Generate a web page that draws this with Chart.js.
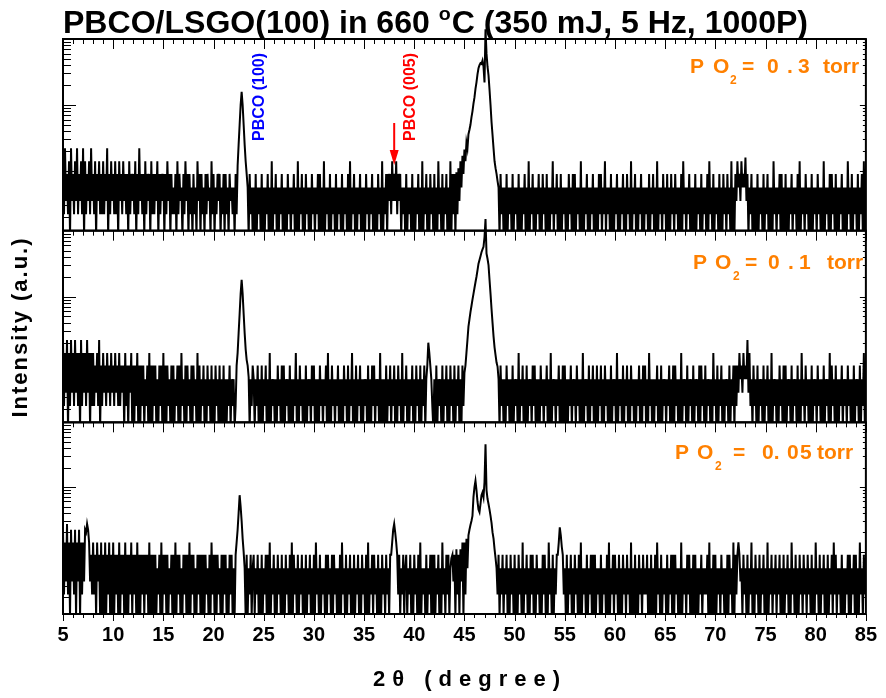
<!DOCTYPE html>
<html>
<head>
<meta charset="utf-8">
<script src="https://cdn.jsdelivr.net/npm/chart.js@4.4.1/dist/chart.umd.min.js"></script>
<style>
  html, body { margin: 0; padding: 0; background: #fff; }
  #wrap { position: relative; width: 886px; height: 698px; }
</style>
</head>
<body>
<div id="wrap"><canvas id="xrdChart" width="886" height="698"></canvas></div>
<script>
// 2-theta scan, 5 to 85 deg, one reading every 0.1 deg
const scanStart = 5;
const scanStep = 0.1;

// intensities (a value of 1 sits below the panel floor)
// PO2 = 0.3 torr
const counts03 = [
  14,2.2,22,3.5,9,2.2,14,1,22,3.5,
  9,2.2,14,3.5,22,2.2,9,3.5,14,2.2,
  22,1,14,2.2,9,3.5,14,2.2,22,3.5,
  9,2.2,14,1,9,3.5,14,2.2,9,2.2,
  14,2.2,9,3.5,22,1,9,2.2,14,3.5,
  9,2.2,14,2.2,9,1,14,3.5,9,2.2,
  14,3.5,9,2.2,9,1,14,2.2,9,3.5,
  9,2.2,14,1,9,2.2,22,3.5,9,2.2,
  9,1,14,2.2,9,3.5,9,1,14,2.2,
  9,2.2,9,3.5,14,1,9,2.2,9,3.5,
  9,1,9,2.2,14,3.5,9,1,9,2.2,
  5.6,2.2,9,1,14,2.2,9,3.5,5.6,1,
  9,2.2,14,3.5,9,1,9,2.2,5.6,1,
  9,2.2,5.6,1,14,3.5,9,1,9,2.2,
  5.6,1,9,2.2,9,3.5,5.6,1,14,2.2,
  9,1,5.6,2.2,9,3.5,9,1,5.6,2.2,
  9,1,9,2.2,5.6,1,9,3.5,5.6,2.2,
  5.6,1,9,2.2,12,25,50,100,158,100,
  50,25,14,9,5.6,1,9,2.2,5.6,1,
  5.6,1,9,1,5.6,2.2,5.6,1,9,1,
  5.6,1,5.6,2.2,9,1,5.6,1,14,1,
  5.6,2.2,9,1,5.6,1,5.6,2.2,9,1,
  5.6,1,5.6,1,9,2.2,5.6,1,5.6,2.2,
  9,1,5.6,1,14,1,5.6,2.2,9,1,
  5.6,1,9,2.2,5.6,1,5.6,1,9,2.2,
  5.6,1,5.6,2.2,9,1,9,1,5.6,1,
  14,1,5.6,2.2,5.6,1,9,1,5.6,2.2,
  5.6,1,9,1,5.6,2.2,5.6,1,9,1,
  5.6,2.2,5.6,1,9,1,14,1,5.6,2.2,
  9,1,5.6,1,5.6,2.2,9,1,5.6,1,
  5.6,1,9,2.2,5.6,1,5.6,2.2,9,1,
  5.6,1,5.6,1,9,2.2,5.6,1,14,1,
  5.6,2.2,9,1,9,3.5,9,2.2,14,3.5,
  9,3.5,14,2.2,9,3.5,9,1,5.6,2.2,
  5.6,1,9,1,5.6,2.2,5.6,1,9,1,
  5.6,1,5.6,2.2,9,1,5.6,1,14,1,
  5.6,2.2,9,1,5.6,1,9,2.2,5.6,1,
  9,1,5.6,1,14,2.2,5.6,1,9,1,
  5.6,2.2,9,1,5.6,1,14,1,9,2.2,
  9,1,9.5,2.2,11,3.5,14,5.6,17,9,
  21,14,27,22,36,42,50,65,80,105,
  130,175,220,290,360,400,430,420,470,380,
  220,1400,600,380,280,170,100,55,35,22,
  14,11,9,7,5.6,1,9,2.2,5.6,1,
  5.6,1,9,1,5.6,2.2,5.6,1,9,1,
  5.6,2.2,5.6,1,9,1,5.6,1,5.6,2.2,
  9,1,5.6,1,14,1,5.6,2.2,9,1,
  5.6,1,5.6,2.2,9,1,5.6,1,9,2.2,
  5.6,1,9,1,5.6,1,5.6,2.2,14,1,
  5.6,2.2,9,1,5.6,1,9,1,5.6,2.2,
  5.6,1,5.6,1,9,2.2,5.6,1,9,1,
  9,1,5.6,2.2,5.6,1,14,1,5.6,1,
  5.6,2.2,9,1,5.6,1,5.6,2.2,9,1,
  5.6,1,5.6,1,9,2.2,9,1,5.6,2.2,
  14,1,5.6,2.2,5.6,1,9,1,5.6,1,
  5.6,2.2,9,1,5.6,1,5.6,2.2,9,1,
  5.6,1,9,2.2,5.6,1,14,1,5.6,2.2,
  9,1,5.6,1,5.6,2.2,9,1,5.6,1,
  5.6,2.2,5.6,1,9,1,5.6,2.2,9,1,
  5.6,1,14,1,5.6,2.2,5.6,1,9,2.2,
  5.6,1,9,1,5.6,1,9,2.2,5.6,1,
  9,2.2,5.6,1,5.6,1,9,1,14,2.2,
  5.6,1,5.6,2.2,9,1,5.6,1,5.6,1,
  9,1,5.6,2.2,5.6,1,9,1,5.6,2.2,
  5.6,1,9,1,14,2.2,5.6,1,9,1,
  5.6,2.2,5.6,1,9,1,5.6,1,9,2.2,
  5.6,1,9,2.2,5.6,1,14,1,5.6,1,
  9,3.5,14,5.6,9,3.5,14,5.6,9,5.6,
  16,3.5,9,1,5.6,2.2,9,1,5.6,1,
  5.6,1,9,1,5.6,2.2,5.6,1,9,1,
  5.6,2.2,9,1,5.6,1,5.6,1,14,2.2,
  5.6,1,5.6,2.2,9,1,9,1,5.6,1,
  9,1,5.6,1,5.6,2.2,9,1,5.6,2.2,
  5.6,1,9,1,14,1,5.6,2.2,5.6,1,
  9,2.2,5.6,1,5.6,1,9,1,5.6,2.2,
  5.6,1,9,2.2,5.6,1,5.6,1,14,1,
  5.6,2.2,5.6,1,9,1,9,2.2,5.6,1,
  9,1,5.6,1,5.6,2.2,9,1,5.6,1,
  5.6,1,14,2.2,5.6,1,9,1,5.6,2.2,
  5.6,1,9,1,5.6,2.2,9,1,14,1,
  5.6
];

// PO2 = 0.1 torr
const counts01 = [
  22,2.2,14,3.5,22,1,14,2.2,22,3.5,
  14,2.2,22,3.5,14,2.2,14,1,22,2.2,
  14,3.5,14,2.2,22,3.5,14,1,14,2.2,
  14,2.2,9,3.5,14,2.2,22,1,9,2.2,
  14,3.5,9,2.2,14,3.5,9,2.2,14,3.5,
  9,2.2,14,3.5,9,2.2,14,2.2,9,3.5,
  9,1,14,2.2,9,1,9,3.5,14,1,
  9,1,9,2.2,14,1,9,1,9,2.2,
  9,1,5.6,2.2,9,1,14,1,9,1,
  9,2.2,9,1,5.6,1,9,2.2,9,1,
  14,1,9,1,9,2.2,5.6,1,9,1,
  9,1,5.6,2.2,9,1,9,1,14,2.2,
  5.6,1,9,1,9,2.2,5.6,1,9,1,
  9,2.2,5.6,1,14,1,9,1,5.6,2.2,
  9,1,5.6,1,9,2.2,5.6,1,9,1,
  5.6,1,9,2.2,5.6,1,9,1,5.6,1,
  9,1,5.6,1,5.6,2.2,9,1,5.6,2.2,
  5.6,1,2.2,9,14,28,55,110,180,110,
  55,28,16,11,9,6,1,5.6,2.2,9,
  5.6,1,5.6,2.2,9,1,5.6,1,9,1,
  5.6,2.2,9,1,5.6,1,14,1,5.6,2.2,
  5.6,1,5.6,1,9,2.2,5.6,1,9,1,
  9,1,5.6,2.2,5.6,1,9,1,5.6,1,
  5.6,2.2,14,1,5.6,1,9,2.2,5.6,1,
  5.6,1,9,1,5.6,2.2,5.6,1,9,2.2,
  9,1,5.6,1,5.6,1,9,2.2,5.6,1,
  5.6,2.2,9,1,14,1,5.6,1,9,2.2,
  5.6,1,5.6,2.2,9,1,5.6,1,5.6,1,
  9,2.2,5.6,1,9,1,5.6,2.2,14,1,
  5.6,1,9,1,5.6,2.2,9,1,5.6,1,
  5.6,2.2,5.6,1,9,1,5.6,1,9,2.2,
  9,1,5.6,2.2,5.6,1,14,1,5.6,1,
  5.6,1,9,1,5.6,2.2,9,1,5.6,2.2,
  9,1,5.6,1,9,2.2,5.6,1,14,1,
  5.6,2.2,9,1,5.6,1,5.6,2.2,9,1,
  5.6,1,9,2.2,5.6,1,9,1,5.6,2.2,
  9,1,5.6,9,20,14,9,5.6,2.2,1,
  5.6,1,9,1,5.6,2.2,5.6,1,9,1,
  5.6,2.2,9,1,5.6,1,9,2.2,5.6,1,
  9,1,5.6,2.2,9,1,5.6,1,9,2.2,
  7,9,14,22,35,45,58,72,90,110,
  135,165,200,250,316,360,410,470,520,570,
  800,1500,450,375,300,180,110,65,40,25,
  17,13,10,8.7,5.6,1,9,2.2,5.6,1,
  5.6,1,9,2.2,5.6,1,5.6,1,9,1,
  5.6,2.2,5.6,1,14,1,5.6,2.2,9,1,
  5.6,1,9,1,5.6,2.2,5.6,1,9,2.2,
  9,1,5.6,1,5.6,1,9,2.2,5.6,1,
  5.6,2.2,9,1,5.6,1,14,1,5.6,2.2,
  5.6,1,5.6,2.2,9,1,5.6,1,9,1,
  9,1,5.6,1,5.6,2.2,9,1,5.6,2.2,
  5.6,1,9,2.2,5.6,1,5.6,1,14,1,
  5.6,2.2,5.6,1,9,1,5.6,2.2,9,1,
  5.6,1,9,1,5.6,2.2,9,1,5.6,1,
  9,2.2,5.6,1,5.6,1,9,1,5.6,2.2,
  5.6,1,14,1,5.6,2.2,5.6,1,9,1,
  5.6,2.2,9,1,5.6,1,9,2.2,5.6,1,
  5.6,1,5.6,2.2,9,1,5.6,1,9,2.2,
  9,1,5.6,1,14,2.2,5.6,1,5.6,1,
  5.6,2.2,9,1,5.6,1,9,1,5.6,2.2,
  5.6,1,5.6,2.2,9,1,5.6,1,9,1,
  9,2.2,5.6,1,5.6,1,14,1,5.6,2.2,
  5.6,1,9,1,5.6,2.2,5.6,1,9,1,
  5.6,2.2,5.6,1,9,1,9,2.2,5.6,1,
  9,1,5.6,2.2,5.6,1,5.6,1,14,2.2,
  5.6,1,9,1,5.6,2.2,9,1,5.6,1,
  5.6,2.2,5.6,1,9,1,5.6,2.2,9,1,
  9,2.2,9,3.5,14,5.6,9,3.5,14,5.6,
  9,5.6,22,3.5,14,2.2,5.6,1,9,2.2,
  5.6,1,9,1,5.6,2.2,5.6,1,9,1,
  5.6,2.2,9,1,5.6,1,14,1,5.6,2.2,
  5.6,1,5.6,1,9,2.2,5.6,1,9,1,
  9,1,5.6,2.2,5.6,1,9,1,5.6,2.2,
  5.6,1,9,1,5.6,1,14,2.2,5.6,1,
  9,2.2,5.6,1,5.6,1,9,1,5.6,2.2,
  5.6,1,9,2.2,5.6,1,5.6,1,9,1,
  5.6,2.2,5.6,1,14,1,9,2.2,5.6,1,
  9,1,5.6,1,5.6,2.2,9,1,5.6,2.2,
  5.6,1,9,2.2,5.6,1,5.6,1,9,1,
  5.6,2.2,5.6,1,9,1,5.6,2.2,14,1,
  5.6
];

// PO2 = 0.05 torr
const counts005 = [
  22,2.2,14,3.5,27,2.2,14,1,22,3.5,
  14,2.2,22,1,14,3.5,22,1,14,2.2,
  14,3.5,22,20,27,22,14,3.5,9,2.2,
  14,2.2,9,1,14,3.5,9,1,14,1,
  9,1,14,1,9,2.2,14,1,9,1,
  14,1,9,2.2,9,1,14,1,9,2.2,
  9,1,14,1,9,1,9,2.2,14,1,
  9,2.2,9,1,14,1,9,1,9,2.2,
  9,1,9,2.2,9,1,14,1,9,1,
  9,1,9,1,5.6,2.2,9,1,14,1,
  9,2.2,9,1,9,1,5.6,2.2,9,1,
  9,1,14,1,9,2.2,9,1,5.6,1,
  9,2.2,9,1,9,1,14,1,9,2.2,
  9,1,5.6,1,9,2.2,9,1,9,1,
  9,1,9,2.2,5.6,1,9,1,14,2.2,
  9,1,9,1,9,2.2,5.6,1,9,1,
  9,2.2,9,1,5.6,1,9,2.2,9,1,
  5.6,1,9,14,22,40,75,50,30,16,
  10,5.6,1,9,1,5.6,2.2,9,1,5.6,
  9,1,5.6,2.2,9,1,5.6,1,9,1,
  5.6,2.2,9,1,9,1,14,1,5.6,2.2,
  9,1,5.6,1,9,2.2,5.6,1,9,1,
  5.6,1,9,2.2,5.6,1,9,1,14,1,
  9,2.2,5.6,1,9,1,5.6,2.2,9,1,
  5.6,1,9,1,5.6,2.2,9,1,5.6,1,
  9,1,14,2.2,5.6,1,9,1,5.6,2.2,
  5.6,1,9,1,9,2.2,5.6,1,9,1,
  9,2.2,5.6,1,5.6,1,9,1,14,2.2,
  5.6,1,9,1,5.6,2.2,9,1,5.6,1,
  9,1,5.6,2.2,9,1,5.6,1,9,2.2,
  5.6,1,9,1,14,1,5.6,2.2,9,1,
  9,2.2,5.6,1,9,1,5.6,1,9,2.2,
  5.6,1,9,2.2,5.6,1,9,9,14,22,
  27,20,14,9,2.2,9,1,5.6,2.2,9,
  1,5.6,9,1,5.6,2.2,9,1,5.6,1,
  9,2.2,5.6,1,9,1,14,1,5.6,2.2,
  5.6,1,9,1,5.6,2.2,9,1,9,1,
  9,1,5.6,2.2,9,1,5.6,1,14,2.2,
  5.6,1,9,2.2,9,1,5.6,8,9,3.5,
  9,1,11,2.2,9,1,11,3.5,14,1,
  14,2.2,16,5.6,18,22,26,30,36,70,
  100,125,90,60,45,41,55,75,83,70,
  120,460,90,66,55,45,36,28,20,16,
  11,8,5.6,2.2,9,1,5.6,2.2,9,1,
  5.6,2.2,9,1,5.6,1,9,2.2,5.6,1,
  9,1,5.6,1,9,2.2,5.6,1,14,1,
  5.6,2.2,9,1,5.6,1,9,2.2,9,1,
  5.6,1,9,2.2,5.6,1,5.6,1,9,2.2,
  9,1,5.6,1,14,2.2,5.6,1,9,1,
  5.6,2.2,9,9,14,24,18,12,9,2.2,
  5.6,1,9,1,5.6,2.2,9,1,5.6,1,
  9,2.2,5.6,1,9,1,14,1,5.6,2.2,
  5.6,1,9,1,5.6,2.2,9,1,9,1,
  9,1,5.6,2.2,5.6,1,9,1,5.6,2.2,
  5.6,1,9,1,14,1,5.6,2.2,9,1,
  9,2.2,5.6,1,9,1,5.6,1,9,2.2,
  5.6,1,9,2.2,5.6,1,14,1,5.6,1,
  9,1,5.6,1,9,2.2,5.6,1,9,2.2,
  5.6,2.2,9,1,5.6,1,9,1,5.6,1,
  9,1,14,2.2,5.6,1,9,1,5.6,2.2,
  5.6,1,9,1,5.6,2.2,9,1,9,1,
  9,2.2,5.6,1,5.6,1,14,1,5.6,2.2,
  5.6,1,9,2.2,9,1,5.6,1,9,1,
  9,1,5.6,1,5.6,2.2,9,1,5.6,2.2,
  5.6,2.2,9,1,14,1,5.6,1,9,1,
  9,1,5.6,2.2,5.6,1,9,2.2,5.6,1,
  5.6,1,9,1,9,2.2,5.6,1,14,1,
  9,2.2,9,14,9,3.5,5.6,1,9,2.2,
  5.6,1,9,1,5.6,2.2,14,1,5.6,1,
  9,2.2,5.6,1,9,1,5.6,2.2,9,1,
  5.6,1,14,1,5.6,2.2,9,1,5.6,2.2,
  9,1,5.6,2.2,9,1,5.6,1,9,1,
  5.6,2.2,9,1,5.6,1,14,2.2,5.6,1,
  9,1,5.6,1,9,2.2,5.6,1,9,2.2,
  5.6,1,9,2.2,5.6,1,9,1,5.6,1,
  14,2.2,5.6,1,9,1,5.6,2.2,9,1,
  5.6,1,9,1,5.6,2.2,9,1,14,2.2,
  9,1,5.6,2.2,5.6,1,9,1,5.6,1,
  5.6,2.2,9,1,9,1,5.6,2.2,9,1,
  9,1,5.6,1,14,2.2,5.6,1,9,2.2,
  5.6
];

// panels top to bottom
const panelIds = ['yTop', 'yMid', 'yLow'];
const panelSeries = [counts03, counts01, counts005];
const panelMin = [1.24, 1.24, 1.1];
const panelMax = [1000, 1000, 1000];

// log tick marks on the panel sides
const logDecades = [1, 10, 100, 1000];
const logSteps = [1, 2, 3, 4, 5, 6, 7, 8, 9];

const pressureLabels = [
  { baseline: 73, subBase: 84, parts: [['P', 690], ['O', 713], ['2', 730, true], ['=', 742], ['0', 767], ['.', 787], ['3', 798], ['torr', 823]] },
  { baseline: 269, subBase: 280, parts: [['P', 693], ['O', 715], ['2', 733, true], ['=', 745], ['0', 768], ['.', 788], ['1', 799], ['torr', 827]] },
  { baseline: 459, subBase: 470, parts: [['P', 675], ['O', 697], ['2', 715, true], ['=', 733], ['0.', 762], ['0', 787], ['5', 800], ['torr', 817]] }
];

[counts03, counts01, counts005].forEach((arr, i) => {
  if (arr.length !== 801) throw new Error('series ' + i + ' has ' + arr.length + ' points');
});

function toPoints(series) {
  return series.map((v, i) => ({ x: +(scanStart + i * scanStep).toFixed(1), y: v }));
}

const narrowBold = '"Liberation Sans Narrow", "Liberation Sans", Arial, sans-serif';
const plainBold = '"Liberation Sans", Arial, sans-serif';

// keep each trace inside its own panel (peaks may poke a little above)
const panelClip = {
  id: 'panelClip',
  beforeDatasetDraw(chart, args) {
    const ys = chart.scales[panelIds[args.index]];
    const ctx = chart.ctx;
    ctx.save();
    ctx.beginPath();
    const top = args.index === 0 ? 0 : ys.top - 14;
    ctx.rect(chart.chartArea.left, top, chart.chartArea.right - chart.chartArea.left, ys.bottom - top);
    ctx.clip();
  },
  afterDatasetDraw(chart) {
    chart.ctx.restore();
  }
};

const frameTicks = {
  id: 'frameTicks',
  afterDatasetsDraw(chart) {
    const ctx = chart.ctx;
    const xs = chart.scales.x;
    ctx.save();
    ctx.strokeStyle = '#000';
    panelIds.forEach((id) => {
      const ys = chart.scales[id];
      ctx.lineWidth = 1;
      ctx.beginPath();
      for (let v = 5; v <= 85; v++) {
        const px = Math.round(xs.getPixelForValue(v)) + 0.5;
        const len = v % 5 === 0 ? 10 : 5;
        ctx.moveTo(px, ys.top);
        ctx.lineTo(px, ys.top + len);
      }
      logDecades.forEach((d) => {
        logSteps.forEach((s) => {
          const v = d * s;
          const py = Math.round(ys.getPixelForValue(v)) + 0.5;
          if (py <= ys.top + 1 || py >= ys.bottom - 1) return;
          ctx.moveTo(xs.left, py);
          ctx.lineTo(xs.left + (s === 1 ? 13 : 8), py);
          ctx.moveTo(xs.right, py);
          ctx.lineTo(xs.right - (s === 1 ? 6 : 3), py);
        });
      });
      ctx.stroke();
      ctx.lineWidth = 2;
      ctx.strokeRect(xs.left, ys.top, xs.right - xs.left, ys.bottom - ys.top);
    });
    // bottom axis ticks hang below the frame
    const bottom = chart.chartArea.bottom;
    ctx.lineWidth = 1;
    ctx.beginPath();
    for (let v = 5; v <= 85; v++) {
      const px = Math.round(xs.getPixelForValue(v)) + 0.5;
      ctx.moveTo(px, bottom);
      ctx.lineTo(px, bottom + (v % 5 === 0 ? 7 : 4));
    }
    ctx.stroke();
    ctx.restore();
  }
};

const annotations = {
  id: 'annotations',
  afterDraw(chart) {
    const ctx = chart.ctx;
    ctx.save();
    ctx.fillStyle = '#000';

    // title, squeezed to the width of the plot title in the figure
    const t1 = 'PBCO/LSGO(100) in 660 ';
    const t2 = 'C (350 mJ, 5 Hz, 1000P)';
    ctx.font = 'bold 31px ' + narrowBold;
    const w1 = ctx.measureText(t1).width;
    const w2 = ctx.measureText(t2).width;
    ctx.font = 'bold 19px ' + narrowBold;
    const wo = ctx.measureText('o').width + 1;
    const sx = 745 / (w1 + wo + w2);
    ctx.translate(63, 33);
    ctx.scale(sx, 1);
    ctx.textBaseline = 'alphabetic';
    ctx.font = 'bold 31px ' + narrowBold;
    ctx.fillText(t1, 0, 0);
    ctx.font = 'bold 19px ' + narrowBold;
    ctx.fillText('o', w1, -13);
    ctx.font = 'bold 31px ' + narrowBold;
    ctx.fillText(t2, w1 + wo, 0);
    ctx.setTransform(1, 0, 0, 1, 0, 0);

    // peak labels
    const vText = (txt, x, y, color) => {
      ctx.save();
      ctx.translate(x, y);
      ctx.rotate(-Math.PI / 2);
      ctx.fillStyle = color;
      ctx.font = 'bold 16px ' + plainBold;
      ctx.textAlign = 'center';
      ctx.textBaseline = 'middle';
      ctx.fillText(txt, 0, 0);
      ctx.restore();
    };
    vText('PBCO (100)', 260, 97, '#0000ff');
    vText('PBCO (005)', 411, 97, '#ff0000');

    // arrow to the (005) position
    const xs = chart.scales.x;
    const ax = xs.getPixelForValue(38.0);
    ctx.strokeStyle = '#ff0000';
    ctx.fillStyle = '#ff0000';
    ctx.lineWidth = 2;
    ctx.beginPath();
    ctx.moveTo(ax, 123);
    ctx.lineTo(ax, 152);
    ctx.stroke();
    ctx.beginPath();
    ctx.moveTo(ax - 4.5, 150);
    ctx.lineTo(ax + 4.5, 150);
    ctx.lineTo(ax, 165);
    ctx.closePath();
    ctx.fill();

    // oxygen pressure labels
    ctx.fillStyle = '#ff8000';
    ctx.textBaseline = 'alphabetic';
    ctx.textAlign = 'left';
    pressureLabels.forEach((lab) => {
      lab.parts.forEach(([txt, x, sub]) => {
        if (sub) {
          ctx.font = 'bold 12px ' + plainBold;
          ctx.fillText(txt, x, lab.subBase);
        } else {
          ctx.font = 'bold 21px ' + plainBold;
          ctx.fillText(txt, x, lab.baseline);
        }
      });
    });

    // axis titles
    ctx.fillStyle = '#000';
    ctx.save();
    ctx.translate(21, 327);
    ctx.rotate(-Math.PI / 2);
    ctx.font = 'bold 22px ' + plainBold;
    ctx.textAlign = 'center';
    ctx.textBaseline = 'middle';
    ctx.letterSpacing = '2px';
    ctx.fillText('Intensity (a.u.)', 0, 0);
    ctx.restore();

    ctx.font = 'bold 22px ' + plainBold;
    ctx.textAlign = 'center';
    ctx.textBaseline = 'middle';
    ctx.letterSpacing = '7px';
    ctx.fillText('2\u03b8 (degree)', 470, 680);
    ctx.letterSpacing = '0px';
    ctx.restore();
  }
};

const yScale = (i) => ({
  type: 'logarithmic',
  position: 'left',
  stack: 'xrd',
  stackWeight: 1,
  min: panelMin[i],
  max: panelMax[i],
  ticks: { display: false },
  grid: { display: false, drawTicks: false },
  border: { display: false },
  afterFit(scale) { scale.width = 0; }
});

const ctx = document.getElementById('xrdChart').getContext('2d');
const xrdChart = new Chart(ctx, {
  type: 'line',
  data: {
    datasets: panelSeries.map((s, i) => ({
      data: toPoints(s),
      yAxisID: panelIds[i],
      borderColor: '#000',
      borderWidth: 2,
      pointRadius: 0,
      tension: 0,
      fill: false,
      clip: false
    }))
  },
  options: {
    responsive: false,
    devicePixelRatio: 1,
    animation: false,
    layout: { padding: { left: 63, right: 11, top: 39, bottom: 0 } },
    plugins: {
      legend: { display: false },
      tooltip: { enabled: false },
      title: { display: false }
    },
    scales: {
      x: {
        type: 'linear',
        min: 5,
        max: 85,
        ticks: {
          stepSize: 5,
          color: '#000',
          padding: 9,
          font: { family: narrowBold, size: 20, weight: 'bold' }
        },
        grid: { display: false, drawTicks: false },
        border: { display: false },
        afterFit(scale) { scale.height = 84; }
      },
      // listed bottom first: the last one is stacked on top
      yLow: yScale(2),
      yMid: yScale(1),
      yTop: yScale(0)
    }
  },
  plugins: [panelClip, frameTicks, annotations]
});
</script>
</body>
</html>
